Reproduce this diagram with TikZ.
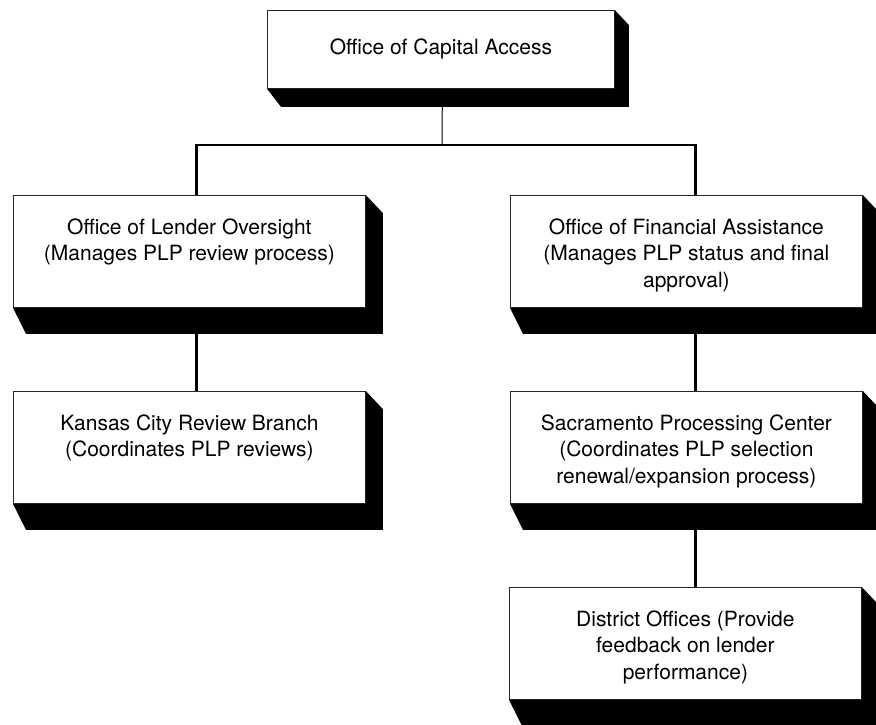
\documentclass[tikz,border=0pt]{standalone}
\usepackage{fontspec}
\setmainfont{TeX Gyre Heros}
\usetikzlibrary{backgrounds}

\tikzset{
  office/.style={draw=black!85, line width=0.8pt, fill=white, anchor=north west,
    inner sep=0pt, minimum width=352pt, minimum height=112pt,
    font=\fontsize{21}{26.5}\selectfont},
  trunk/.style={line width=2.6pt},
  twig/.style={line width=1pt}
}
\newcommand{\officetext}[1]{\parbox[c][66pt][t]{340pt}{\centering #1}}
% black slab under and right of a box
\newcommand{\slab}[1]{%
  \fill (#1.south west) -- ++(13,-26) -- ([shift={(17,-26)}]#1.south east)
    -- ([shift={(17,-18)}]#1.north east) -- (#1.north east) -- (#1.south east) -- cycle;}

\begin{document}
\begin{tikzpicture}[x=1pt,y=1pt]
  \useasboundingbox (0,0) rectangle (876,-725);

  \node[office, minimum width=347pt, minimum height=78pt] (oca) at (267,-10) {Office of Capital Access};
  \node[office] (olo) at (13,-195) {\officetext{Office of Lender Oversight\\(Manages PLP review process)}};
  \node[office] (ofa) at (510,-195) {\officetext{Office of Financial Assistance\\(Manages PLP status and final\\approval)}};
  \node[office] (kcrb) at (13,-391) {\officetext{Kansas City Review Branch\\(Coordinates PLP reviews)}};
  \node[office] (spc) at (510,-391) {\officetext{Sacramento Processing Center\\(Coordinates PLP selection\\renewal/expansion process)}};
  \node[office] (dist) at (509,-587) {\officetext{District Offices (Provide\\feedback on lender\\performance)}};

  \fill (oca.south west) -- ++(14,-18) -- ([shift={(14,-18)}]oca.south east)
    -- ([shift={(14,-15)}]oca.north east) -- (oca.north east) -- (oca.south east) -- cycle;
  \slab{olo}
  \slab{ofa}
  \slab{kcrb}
  \slab{spc}
  \slab{dist}

  \begin{scope}[on background layer]
    \coordinate (bus) at (442,-145);
    \draw[twig] ([xshift=1.5pt]oca.south) -- (bus);
    \draw[trunk] ([xshift=7pt]olo.north) |- (bus) -| ([xshift=9pt]ofa.north);
    \draw[trunk] ([xshift=7pt]olo.south) -- ([xshift=7pt]kcrb.north);
    \draw[trunk] ([xshift=9pt]ofa.south) -- ([xshift=9pt]spc.north);
    \draw[trunk] ([xshift=9pt]spc.south) -- ([xshift=10pt]dist.north);
  \end{scope}
\end{tikzpicture}
\end{document}
